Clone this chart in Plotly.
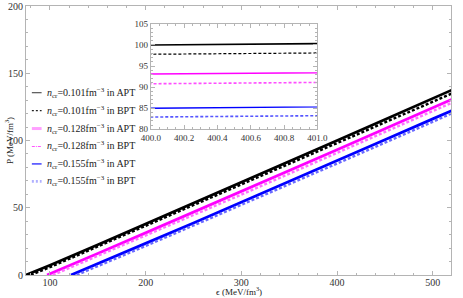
import plotly.graph_objects as go

# ---------------- data ----------------
eps_black_apt = [75, 100, 150, 200, 250, 300, 350, 400, 450, 500, 520]
p_black_apt = [0, 7.2, 22.5, 37.9, 53.3, 68.7, 84.3, 100.0, 115.6, 131.3, 137.6]
eps_black_bpt = [80, 100, 150, 200, 250, 300, 350, 400, 450, 500, 520]
p_black_bpt = [0, 5.8, 21.2, 36.5, 51.9, 67.1, 82.4, 97.8, 113.2, 128.8, 135.0]

eps_mag_apt = [97, 125, 150, 200, 250, 300, 350, 400, 450, 500, 520]
p_mag_apt = [0, 8.3, 16.0, 31.3, 46.6, 62.0, 77.5, 93.1, 108.7, 124.4, 130.6]
eps_mag_bpt = [103, 125, 150, 200, 250, 300, 350, 400, 450, 500, 520]
p_mag_bpt = [0, 6.6, 14.2, 29.4, 44.6, 59.8, 75.2, 90.8, 106.3, 121.9, 128.1]

eps_blue_apt = [122, 150, 200, 250, 300, 350, 400, 450, 500, 520]
p_blue_apt = [0, 8.3, 23.5, 38.7, 54.0, 69.4, 85.0, 100.5, 116.1, 122.3]
eps_blue_bpt = [128, 150, 200, 250, 300, 350, 400, 450, 500, 520]
p_blue_bpt = [0, 6.5, 21.6, 36.8, 52.0, 67.3, 82.9, 98.4, 114.0, 120.2]

legend_labels = [
    "<i>n</i><sub>cr</sub>=0.101fm<sup>−3</sup> in APT",
    "<i>n</i><sub>cr</sub>=0.101fm<sup>−3</sup> in BPT",
    "<i>n</i><sub>cr</sub>=0.128fm<sup>−3</sup> in APT",
    "<i>n</i><sub>cr</sub>=0.128fm<sup>−3</sup> in BPT",
    "<i>n</i><sub>cr</sub>=0.155fm<sup>−3</sup> in APT",
    "<i>n</i><sub>cr</sub>=0.155fm<sup>−3</sup> in BPT",
]

inset_xticks = [400.0, 400.2, 400.4, 400.6, 400.8, 401.0]
inset_yticks = [80, 85, 90, 95, 100, 105]
main_xticks = [100, 200, 300, 400, 500]
main_yticks = [0, 50, 100, 150, 200]

# ---------------- styles ----------------
FONT = "Liberation Serif"
FRAME = "#b4b4b4"
TXT = "#333333"

series = [
    (eps_black_apt, p_black_apt, dict(color="#000000", width=2.6, dash="solid"),
     dict(color="#000000", width=1.6, dash="solid")),
    (eps_black_bpt, p_black_bpt, dict(color="#000000", width=2.4, dash="3px,2px"),
     dict(color="#000000", width=1.2, dash="3px,2px")),
    (eps_mag_apt, p_mag_apt, dict(color="#ff00ff", width=2.8, dash="solid"),
     dict(color="#ff00ff", width=1.4, dash="solid")),
    (eps_mag_bpt, p_mag_bpt, dict(color="#ff70ff", width=2.4, dash="3px,2px"),
     dict(color="#ff4dff", width=1.6, dash="3px,2px")),
    (eps_blue_apt, p_blue_apt, dict(color="#0000ff", width=2.8, dash="solid"),
     dict(color="#0000ff", width=1.4, dash="solid")),
    (eps_blue_bpt, p_blue_bpt, dict(color="#6a6aff", width=2.4, dash="3px,2px"),
     dict(color="#5555ff", width=1.6, dash="3px,2px")),
]

fig = go.Figure()
for xs, ys, main_line, inset_line in series:
    fig.add_trace(go.Scatter(x=xs, y=ys, mode="lines", line=main_line,
                             showlegend=False, xaxis="x", yaxis="y",
                             hoverinfo="skip"))
for xs, ys, main_line, inset_line in series:
    fig.add_trace(go.Scatter(x=xs, y=ys, mode="lines", line=inset_line,
                             showlegend=False, xaxis="x2", yaxis="y2",
                             hoverinfo="skip"))

W, H = 463, 298
ml, mr, mt, mb = 26, 1, 5, 23
pw, ph = W - ml - mr, H - mt - mb


def px_x(px):
    return (px - ml) / pw


def px_y(py):
    return (H - mb - py) / ph


axis_common = dict(showgrid=False, zeroline=False, showline=True, linecolor=FRAME,
                   linewidth=1, mirror="ticks", ticks="inside", ticklen=4,
                   tickcolor=FRAME, tickwidth=1,
                   tickfont=dict(family=FONT, size=10, color=TXT))

fig.update_layout(
    width=W, height=H,
    margin=dict(l=ml, r=mr, t=mt, b=mb),
    plot_bgcolor="white", paper_bgcolor="white",
    font=dict(family=FONT, size=10, color=TXT),
    xaxis=dict(range=[75, 519], tickvals=main_xticks, domain=[0, 1],
               ticklabelstandoff=-2,
               minor=dict(dtick=20, ticklen=2, tickcolor=FRAME, ticks="inside"),
               **axis_common),
    yaxis=dict(range=[0, 200], tickvals=main_yticks, domain=[0, 1],
               minor=dict(dtick=10, ticklen=2, tickcolor=FRAME, ticks="inside"),
               **axis_common),
    xaxis2=dict(range=[400.0, 401.0], tickvals=inset_xticks,
                ticktext=[f"{v:.1f}" for v in inset_xticks],
                domain=[px_x(154), px_x(325)], anchor="y2",
                minor=dict(dtick=0.05, ticklen=2, tickcolor=FRAME, ticks="inside"),
                **{**axis_common, "tickfont": dict(family=FONT, size=9, color=TXT)}),
    yaxis2=dict(range=[80, 105], tickvals=inset_yticks,
                domain=[px_y(128.7), px_y(23)], anchor="x2",
                minor=dict(dtick=1, ticklen=2, tickcolor=FRAME, ticks="inside"),
                **{**axis_common, "tickfont": dict(family=FONT, size=9, color=TXT)}),
)

# legend (drawn manually to mirror the reference's compact layout)
legend_syms = [
    dict(color="#555555", width=1.2, dash="solid"),
    dict(color="#222222", width=1.2, dash="2px,2px"),
    dict(color="#ffa0ff", width=3, dash="solid"),
    dict(color="#ff55ff", width=1.2, dash="3px,1px,1px,1px"),
    dict(color="#3333ff", width=1.4, dash="solid"),
    dict(color="#b0b0ff", width=2.6, dash="2px,2px"),
]
leg_y = [92, 110, 128, 146, 163.5, 181]
shapes = []
annotations = []
for lab, sym, yy in zip(legend_labels, legend_syms, leg_y):
    shapes.append(dict(type="line", xref="paper", yref="paper",
                       x0=px_x(32), x1=px_x(42), y0=px_y(yy), y1=px_y(yy),
                       line=sym))
    annotations.append(dict(text=lab, xref="paper", yref="paper",
                            x=px_x(45), y=px_y(yy), xanchor="left", yanchor="middle",
                            showarrow=False,
                            font=dict(family=FONT, size=10, color="#222222")))

annotations.append(dict(text="ϵ (MeV/fm<sup>3</sup>)", xref="paper", yref="paper",
                        x=0.5, y=px_y(291.5), xanchor="center", yanchor="middle",
                        showarrow=False, font=dict(family=FONT, size=9, color="#222222")))
annotations.append(dict(text="P (MeV/fm<sup>3</sup>)", xref="paper", yref="paper",
                        x=px_x(8), y=0.5, xanchor="center", yanchor="middle",
                        textangle=-90, showarrow=False,
                        font=dict(family=FONT, size=9, color="#222222")))

fig.update_layout(shapes=shapes, annotations=annotations)

fig.write_html("out.html", config={"displayModeBar": False},
               post_script="document.body.style.margin='0';document.body.style.padding='0';")
